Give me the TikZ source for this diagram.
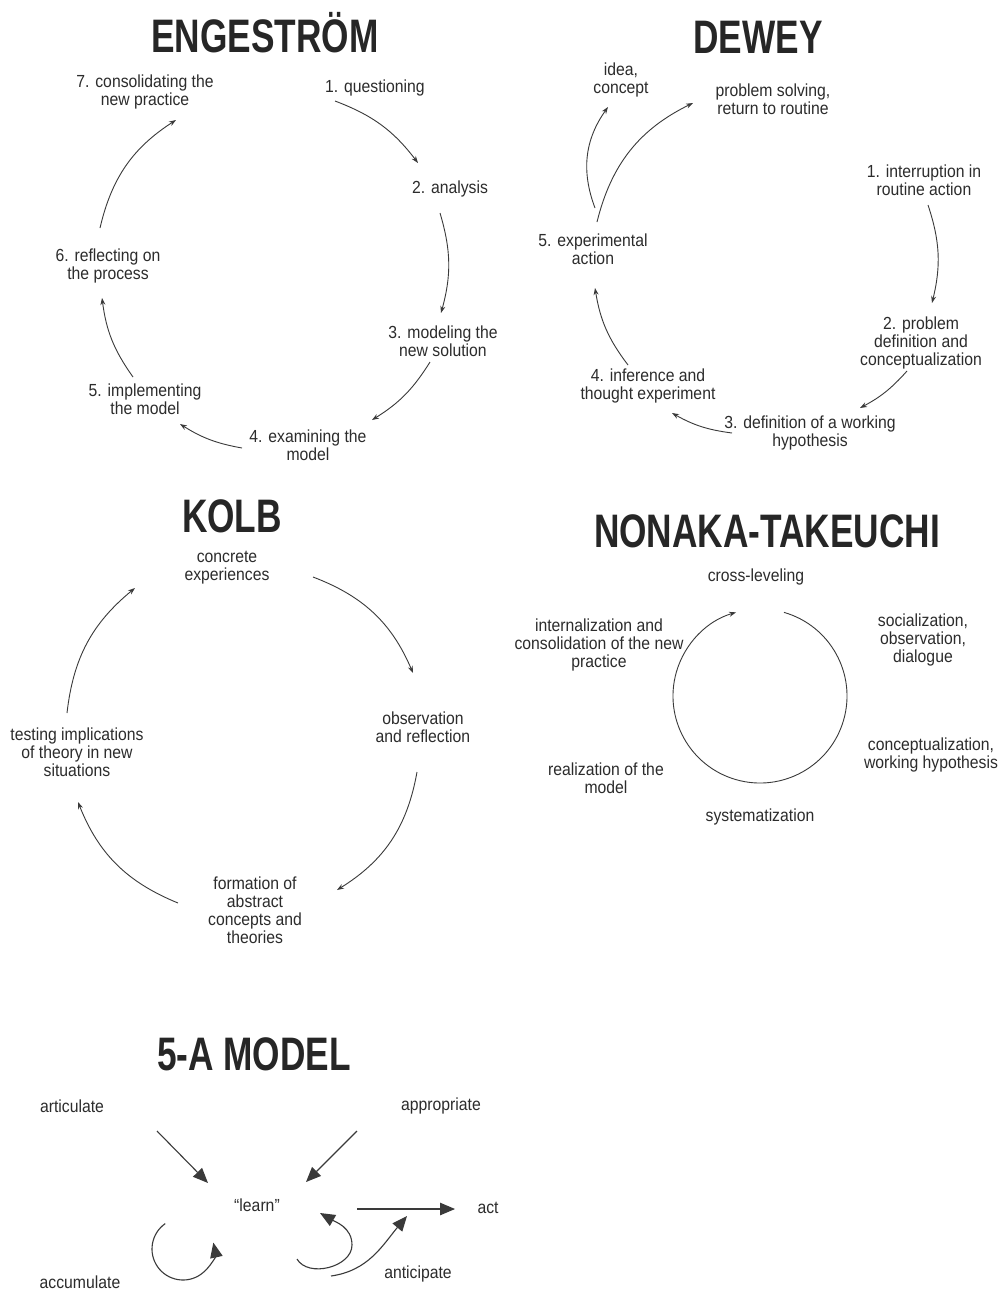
\documentclass[tikz,border=0pt]{standalone}
\usepackage{fontspec}
\setmainfont{Liberation Sans}[FakeStretch=0.9]
\newfontfamily\ttlfont{Liberation Sans}[FakeStretch=0.75]
\usetikzlibrary{arrows.meta}
\definecolor{txt}{HTML}{2C2C2C}
\definecolor{ln}{HTML}{3A3A3A}
\definecolor{ttl}{HTML}{262626}
\tikzset{
  lbl/.style={align=center, inner sep=0pt, text=txt, font=\fontsize{17.5}{18}\selectfont},
  ttlnode/.style={anchor=base, inner sep=0pt, text=ttl, font=\ttlfont\bfseries\fontsize{47}{50}\selectfont},
  arr/.style={draw=ln, line width=0.9pt, -{Stealth[length=7pt,width=5pt]}},
  bigarr/.style={draw=ln, line width=1.1pt, -{Triangle[length=15pt,width=12.5pt]}}
}
\begin{document}
\begin{tikzpicture}[x=1pt,y=1pt]
\useasboundingbox[fill=white] (0,0) rectangle (1003,-1293);

% ---------------- ENGESTROM ----------------
\node[ttlnode] (etitle) at (265,-52) {ENGESTRÖM};
\node[lbl] (e7) at (145,-92) {7. consolidating the\\new practice};
\node[lbl] (e1) at (375,-88) {1. questioning};
\node[lbl] (e2) at (450,-189) {2. analysis};
\node[lbl] (e3) at (443,-341) {3. modeling the\\new solution};
\node[lbl] (e4) at (308,-445) {4. examining the\\model};
\node[lbl] (e5) at (145,-399) {5. implementing\\the model};
\node[lbl] (e6) at (108,-266) {6. reflecting on\\the process};
\coordinate (e12a) at (335,-101); \coordinate (e12b) at (418,-163);
\coordinate (e23a) at (440,-213); \coordinate (e23b) at (441,-313);
\coordinate (e34a) at (430,-362); \coordinate (e34b) at (372,-420);
\coordinate (e45a) at (242,-448); \coordinate (e45b) at (180,-424);
\coordinate (e56a) at (133,-377); \coordinate (e56b) at (102,-298);
\coordinate (e67a) at (100,-228); \coordinate (e67b) at (176,-120);
\draw[arr] (e12a) to[bend left=16] (e12b);
\draw[arr] (e23a) to[bend left=16] (e23b);
\draw[arr] (e34a) to[bend left=13] (e34b);
\draw[arr] (e45a) to[bend left=11] (e45b);
\draw[arr] (e56a) to[bend left=14] (e56b);
\draw[arr] (e67a) to[bend left=22] (e67b);

% ---------------- DEWEY ----------------
\node[ttlnode] (dtitle) at (758,-53) {DEWEY};
\node[lbl] (didea) at (621,-80) {idea,\\concept};
\node[lbl] (dps) at (773,-99) {problem solving,\\return to routine};
\node[lbl] (d1) at (924,-180) {1. interruption in\\routine action};
\node[lbl] (d2) at (921,-343) {2. problem\\definition and\\conceptualization};
\node[lbl] (d3) at (810,-433) {3. definition of a working\\hypothesis};
\node[lbl] (d4) at (648,-386) {4. inference and\\thought experiment};
\node[lbl] (d5) at (593,-249) {5. experimental\\action};
\coordinate (d12a) at (928,-205); \coordinate (d12b) at (932,-303);
\coordinate (d23a) at (907,-371); \coordinate (d23b) at (860,-408);
\coordinate (d34a) at (732,-433); \coordinate (d34b) at (672,-413);
\coordinate (d45a) at (628,-365); \coordinate (d45b) at (595,-288);
\coordinate (d5pa) at (597,-222); \coordinate (d5pb) at (693,-103);
\coordinate (d5ia) at (595,-208); \coordinate (d5ib) at (608,-107);
\draw[arr] (d12a) to[bend left=16] (d12b);
\draw[arr] (d23a) to[bend left=10] (d23b);
\draw[arr] (d34a) to[bend left=11] (d34b);
\draw[arr] (d45a) to[bend left=14] (d45b);
\draw[arr] (d5pa) to[bend left=25] (d5pb);
\draw[arr] (d5ia) to[bend left=28] (d5ib);

% ---------------- KOLB ----------------
\node[ttlnode] (ktitle) at (232,-532) {KOLB};
\node[lbl] (k1) at (227,-568) {concrete\\experiences};
\node[lbl] (k2) at (423,-727) {observation\\and reflection};
\node[lbl] (k3) at (255,-910) {formation of\\abstract\\concepts and\\theories};
\node[lbl] (k4) at (77,-752) {testing implications\\of theory in new\\situations};
\coordinate (k12a) at (313,-577); \coordinate (k12b) at (413,-673);
\coordinate (k23a) at (417,-772); \coordinate (k23b) at (337,-890);
\coordinate (k34a) at (178,-903); \coordinate (k34b) at (78,-802);
\coordinate (k41a) at (67,-713);  \coordinate (k41b) at (135,-588);
\draw[arr] (k12a) to[bend left=23] (k12b);
\draw[arr] (k23a) to[bend left=24] (k23b);
\draw[arr] (k34a) to[bend left=23] (k34b);
\draw[arr] (k41a) to[bend left=22] (k41b);

% ---------------- NONAKA-TAKEUCHI ----------------
\node[ttlnode] (ntitle) at (767,-547) {NONAKA-TAKEUCHI};
\node[lbl] (n1) at (756,-577) {cross-leveling};
\node[lbl] (n2) at (923,-640) {socialization,\\observation,\\dialogue};
\node[lbl] (n3) at (931,-755) {conceptualization,\\working hypothesis};
\node[lbl] (n4) at (760,-817) {systematization};
\node[lbl] (n5) at (606,-778) {realization of the\\model};
\node[lbl] (n6) at (599,-645) {internalization and\\consolidation of the new\\practice};
\coordinate (nc) at (760,-696);
\draw[arr] (nc) ++(74:87) arc[start angle=74, end angle=-254, radius=87];

% ---------------- 5-A MODEL ----------------
\node[ttlnode] (atitle) at (254,-1070) {5-A MODEL};
\node[lbl] (a1) at (72,-1106) {articulate};
\node[lbl] (a2) at (441,-1106) {appropriate};
\node[lbl] (al) at (257,-1205) {“learn”};
\node[lbl] (aa) at (488,-1208) {act};
\node[lbl] (ac) at (80,-1282) {accumulate};
\node[lbl] (an) at (418,-1274) {anticipate};
\coordinate (a1s) at (157,-1131); \coordinate (a1e) at (208,-1183);
\coordinate (a2s) at (357,-1131); \coordinate (a2e) at (306,-1182);
\coordinate (aas) at (357,-1209); \coordinate (aae) at (455,-1209);
\coordinate (acc) at (183,-1249);
\coordinate (an1s) at (297,-1259); \coordinate (an1m) at (352,-1245); \coordinate (an1e) at (320,-1213);
\coordinate (an2s) at (331,-1276); \coordinate (an2e) at (407,-1216);
\draw[bigarr] (a1s) -- (a1e);
\draw[bigarr] (a2s) -- (a2e);
\draw[bigarr] (aas) -- (aae);
\draw[bigarr] (acc) ++(125:31) arc[start angle=125, end angle=372, radius=31];
\draw[bigarr] (an1s) to[out=-60, in=-90] (an1m) to[out=90, in=-30] (an1e);
\draw[bigarr] (an2s) to[out=8, in=-130] (an2e);
\end{tikzpicture}
\end{document}
